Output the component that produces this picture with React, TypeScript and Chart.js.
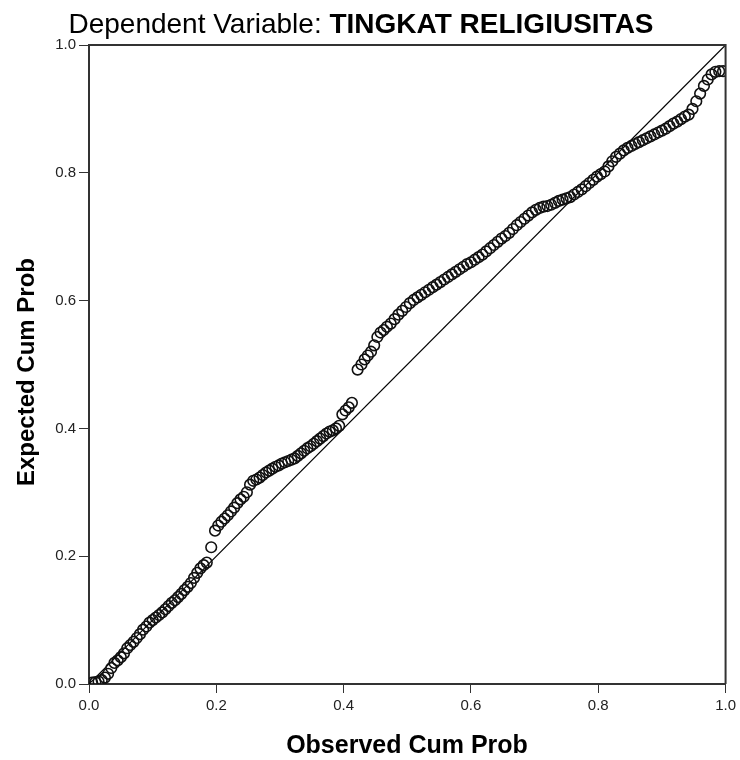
import React, { useEffect, useRef } from "react";
import { Chart, registerables } from "chart.js";

Chart.register(...registerables);

// Observed cumulative probability (x) of each residual
const observed: number[] = [
  0.005, 0.010, 0.015, 0.020, 0.025, 0.030, 0.035, 0.040, 0.045, 0.050,
  0.055, 0.060, 0.065, 0.070, 0.075, 0.080, 0.085, 0.090, 0.095, 0.100,
  0.105, 0.110, 0.115, 0.120, 0.125, 0.130, 0.135, 0.140, 0.145, 0.150,
  0.155, 0.160, 0.165, 0.170, 0.175, 0.180, 0.185,
  0.192, 0.198, 0.203, 0.208, 0.213, 0.218, 0.223, 0.228, 0.233, 0.238,
  0.243, 0.248, 0.253, 0.258, 0.263, 0.268, 0.273, 0.278, 0.283, 0.288,
  0.293, 0.298, 0.303, 0.308, 0.313, 0.318, 0.323, 0.328, 0.333, 0.338,
  0.343, 0.348, 0.353, 0.358, 0.363, 0.368, 0.373, 0.378, 0.383, 0.388,
  0.393, 0.398, 0.403, 0.408, 0.413,
  0.422, 0.428, 0.433, 0.438, 0.443, 0.448, 0.453, 0.458, 0.463, 0.468,
  0.474, 0.480, 0.486, 0.492, 0.498, 0.504, 0.510, 0.516, 0.522, 0.528,
  0.534, 0.540, 0.546, 0.552, 0.558, 0.564, 0.570, 0.576, 0.582, 0.588,
  0.594, 0.600, 0.606, 0.612, 0.618, 0.624, 0.630, 0.636, 0.642, 0.648,
  0.654, 0.660, 0.666, 0.672, 0.678, 0.684, 0.690, 0.696, 0.702, 0.708,
  0.714, 0.720, 0.726, 0.732, 0.738, 0.744, 0.750, 0.756, 0.762, 0.768,
  0.774, 0.780, 0.786, 0.792, 0.798, 0.804, 0.810, 0.816, 0.822, 0.828,
  0.834, 0.840, 0.846, 0.852, 0.858, 0.864, 0.870, 0.876, 0.882, 0.888,
  0.894, 0.900, 0.906, 0.912, 0.918, 0.924, 0.930, 0.936, 0.942, 0.948,
  0.954, 0.960, 0.966, 0.972, 0.978, 0.984, 0.990, 0.996,
];

// Expected cumulative probability (y) of each residual
const expected: number[] = [
  0.002, 0.003, 0.004, 0.006, 0.010, 0.016, 0.025, 0.033, 0.037, 0.042,
  0.048, 0.056, 0.061, 0.066, 0.072, 0.078, 0.085, 0.090, 0.096, 0.100,
  0.104, 0.108, 0.112, 0.117, 0.122, 0.127, 0.131, 0.136, 0.141, 0.147,
  0.152, 0.158, 0.166, 0.174, 0.181, 0.186, 0.190,
  0.214, 0.240, 0.248, 0.254, 0.259, 0.264, 0.270, 0.276, 0.283, 0.289,
  0.293, 0.300, 0.312, 0.318, 0.320, 0.323, 0.327, 0.331, 0.334, 0.337,
  0.340, 0.342, 0.345, 0.347, 0.349, 0.351, 0.353, 0.357, 0.361, 0.365,
  0.369, 0.372, 0.376, 0.380, 0.384, 0.388, 0.392, 0.395, 0.397, 0.400,
  0.404, 0.422, 0.428, 0.433, 0.440,
  0.492, 0.500, 0.508, 0.514, 0.520, 0.530, 0.543, 0.550, 0.554, 0.559,
  0.564, 0.571, 0.578, 0.584, 0.590, 0.596, 0.601, 0.605, 0.609, 0.613,
  0.617, 0.621, 0.625, 0.629, 0.633, 0.637, 0.641, 0.645, 0.649, 0.653,
  0.657, 0.660, 0.664, 0.668, 0.672, 0.677, 0.682, 0.687, 0.692, 0.697,
  0.701, 0.706, 0.712, 0.718, 0.723, 0.728, 0.733, 0.738, 0.742, 0.745,
  0.747, 0.748, 0.750, 0.753, 0.756, 0.758, 0.760, 0.762, 0.766, 0.770,
  0.774, 0.779, 0.784, 0.789, 0.794, 0.798, 0.802, 0.810, 0.818, 0.825,
  0.830, 0.835, 0.839, 0.842, 0.845, 0.848, 0.851, 0.854, 0.857, 0.860,
  0.863, 0.866, 0.869, 0.873, 0.877, 0.880, 0.884, 0.888, 0.891, 0.900,
  0.912, 0.924, 0.936, 0.946, 0.954, 0.958, 0.959, 0.959,
];

// Reference (diagonal) line endpoints
const refLineX: number[] = [0, 1];
const refLineY: number[] = [0, 1];

const tickValues: number[] = [0, 0.2, 0.4, 0.6, 0.8, 1.0];

const titleRegular = "Dependent Variable: ";
const titleBold = "TINGKAT RELIGIUSITAS";
const xAxisTitle = "Observed Cum Prob";
const yAxisTitle = "Expected Cum Prob";

const FONT = '"Liberation Sans", Arial, Helvetica, sans-serif';

const decorPlugin = {
  id: "decor",
  afterDraw(chart: any) {
    const { ctx, chartArea } = chart;
    const { left, right, top, bottom } = chartArea;
    ctx.save();
    // frame top and right
    ctx.strokeStyle = "#333";
    ctx.lineWidth = 2;
    ctx.beginPath();
    ctx.moveTo(left, top);
    ctx.lineTo(right, top);
    ctx.lineTo(right, bottom);
    ctx.stroke();

    // title
    ctx.fillStyle = "#000";
    ctx.textBaseline = "alphabetic";
    ctx.textAlign = "left";
    ctx.font = `normal 28px ${FONT}`;
    const w1 = ctx.measureText(titleRegular).width;
    ctx.font = `bold 28px ${FONT}`;
    const w2 = ctx.measureText(titleBold).width;
    const startX = 361 - (w1 + w2) / 2;
    ctx.font = `normal 28px ${FONT}`;
    ctx.fillText(titleRegular, startX, 33);
    ctx.font = `bold 28px ${FONT}`;
    ctx.fillText(titleBold, startX + w1, 33);

    // x axis title
    ctx.font = `bold 25px ${FONT}`;
    ctx.textAlign = "center";
    ctx.textBaseline = "middle";
    ctx.fillText(xAxisTitle, 407, 746);

    // y axis title
    ctx.font = `bold 24px ${FONT}`;
    ctx.translate(27, 372);
    ctx.rotate(-Math.PI / 2);
    ctx.fillText(yAxisTitle, 0, 0);
    ctx.restore();
  },
};

export default function App() {
  const canvasRef = useRef<HTMLCanvasElement | null>(null);

  useEffect(() => {
    if (!canvasRef.current) return;
    const points = observed.map((x, i) => ({ x, y: expected[i] }));
    const line = refLineX.map((x, i) => ({ x, y: refLineY[i] }));

    const tickCfg = {
      font: { family: FONT, size: 15 },
      color: "#222",
      padding: 3,
      autoSkip: false,
      callback: (v: any) => Number(v).toFixed(1),
    };

    const chart = new Chart(canvasRef.current, {
      type: "scatter",
      data: {
        datasets: [
          {
            type: "line",
            data: line,
            borderColor: "#000",
            borderWidth: 1.2,
            pointRadius: 0,
            fill: false,
            order: 2,
          } as any,
          {
            data: points,
            pointStyle: "circle",
            pointRadius: 5.3,
            pointBorderWidth: 1.6,
            pointBorderColor: "#111",
            pointBackgroundColor: "rgba(0,0,0,0)",
            clip: 0,
            order: 1,
          } as any,
        ],
      },
      options: {
        animation: false,
        responsive: true,
        maintainAspectRatio: false,
        layout: { padding: { top: 45, right: 13, left: 0, bottom: 0 } },
        plugins: {
          legend: { display: false },
          tooltip: { enabled: false },
          title: { display: false },
        },
        scales: {
          x: {
            type: "linear",
            min: 0,
            max: 1,
            afterBuildTicks: (s: any) => {
              s.ticks = tickValues.map((v) => ({ value: v }));
            },
            ticks: { ...tickCfg, padding: 4 },
            grid: {
              drawOnChartArea: false,
              drawTicks: true,
              tickLength: 9,
              color: "#333",
              lineWidth: 1,
            },
            border: { display: true, color: "#333", width: 2 },
            afterFit: (s: any) => {
              s.height = 76;
            },
          },
          y: {
            type: "linear",
            min: 0,
            max: 1,
            afterBuildTicks: (s: any) => {
              s.ticks = tickValues.map((v) => ({ value: v }));
            },
            ticks: tickCfg,
            grid: {
              drawOnChartArea: false,
              drawTicks: true,
              tickLength: 10,
              color: "#333",
              lineWidth: 1,
            },
            border: { display: true, color: "#333", width: 2 },
            afterFit: (s: any) => {
              s.width = 89;
            },
          },
        },
      } as any,
      plugins: [decorPlugin],
    });
    return () => chart.destroy();
  }, []);

  return (
    <div
      style={{
        position: "absolute",
        left: 0,
        top: 0,
        width: 740,
        height: 760,
        background: "#fff",
      }}
    >
      <canvas ref={canvasRef} />
    </div>
  );
}
